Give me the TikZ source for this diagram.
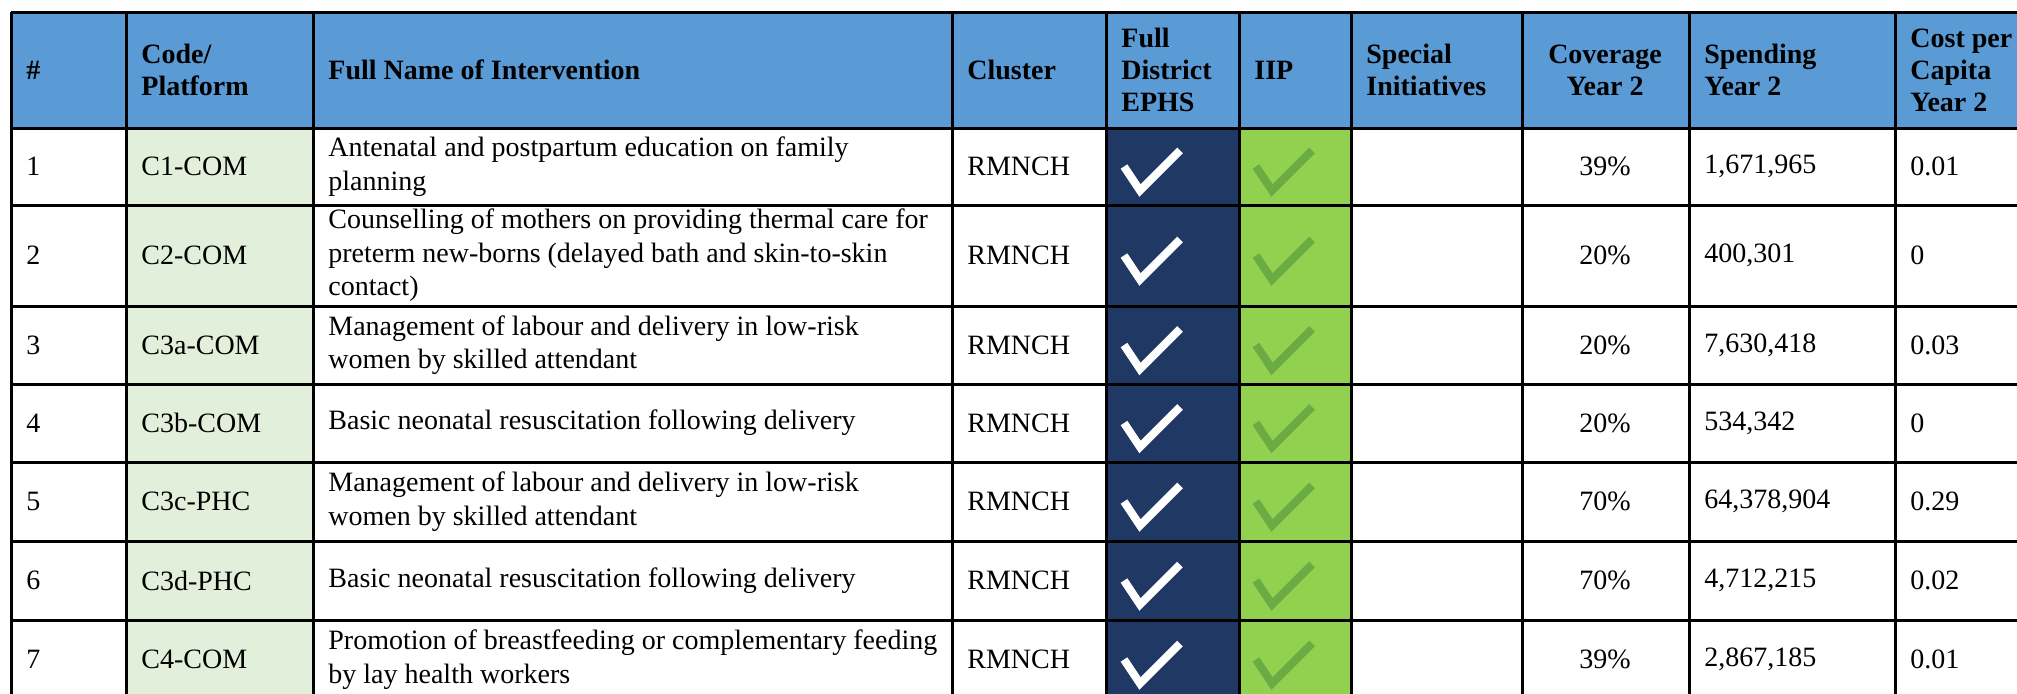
\documentclass[tikz,border=0pt]{standalone}
\usepackage{fontspec}
\setmainfont{Liberation Serif}
\usetikzlibrary{positioning}

\definecolor{headblue}{HTML}{5B9BD5}
\definecolor{codegreen}{HTML}{E2EFDA}
\definecolor{ephsnavy}{HTML}{203864}
\definecolor{iipgreen}{HTML}{92D050}
\definecolor{tickgreen}{HTML}{6AAB43}

\tikzset{
  head/.style={anchor=west,inner sep=0pt,align=left,font=\bfseries\fontsize{14pt}{16pt}\selectfont},
  cell/.style={anchor=west,inner sep=0pt,align=left,font=\fontsize{14pt}{16.75pt}\selectfont},
  rule/.style={line width=1.5pt},
  tick/.style={line width=4pt,line join=miter}
}

\begin{document}
\begin{tikzpicture}[x=0.5pt,y=-0.5pt]
  \useasboundingbox (0,0) rectangle (2017,693);
  \clip (0,0) rectangle (2017,693);
  \fill[headblue] (11,12) rectangle (2030,128);
  \fill[codegreen] (126,128) rectangle (313,700);
  \fill[ephsnavy] (1106,128) rectangle (1239,700);
  \fill[iipgreen] (1239,128) rectangle (1351,700);
  \foreach \y in {12,128,205,306,384,462,541,620}
    \draw[rule] (11,\y) -- (2030,\y);
  \foreach \x in {11,126,313,952,1106,1239,1351,1522,1689,1895}
    \draw[rule] (\x,12) -- (\x,700);

  \node[head] (hnum) at (26,70) {\#};
  \node[head] (hcode) at (141,70) {Code/\\Platform};
  \node[head] (hname) at (328,70) {Full Name of Intervention};
  \node[head] (hcluster) at (967,70) {Cluster};
  \node[head] (hephs) at (1121,70) {Full\\District\\EPHS};
  \node[head] (hiip) at (1254,70) {IIP};
  \node[head] (hspecial) at (1366,70) {Special\\Initiatives};
  \node[head,anchor=center,align=center] (hcov) at (1605,70) {Coverage\\Year 2};
  \node[head] (hspend) at (1704,70) {Spending\\Year 2};
  \node[head] (hcost) at (1910,70) {Cost per\\Capita\\Year 2};

  \foreach \r/\y/\code/\name/\cov/\spend/\cost in {
    1/166.5/C1-COM/{Antenatal and postpartum education on family\\planning}/39\%/{1,671,965}/0.01,
    2/255.5/C2-COM/{Counselling of mothers on providing thermal care for\\preterm new-borns (delayed bath and skin-to-skin\\contact)}/20\%/{400,301}/0,
    3/345/C3a-COM/{Management of labour and delivery in low-risk\\women by skilled attendant}/20\%/{7,630,418}/0.03,
    4/423/C3b-COM/{Basic neonatal resuscitation following delivery}/20\%/{534,342}/0,
    5/501.5/C3c-PHC/{Management of labour and delivery in low-risk\\women by skilled attendant}/70\%/{64,378,904}/0.29,
    6/580.5/C3d-PHC/{Basic neonatal resuscitation following delivery}/70\%/{4,712,215}/0.02,
    7/659.5/C4-COM/{Promotion of breastfeeding or complementary feeding\\by lay health workers}/39\%/{2,867,185}/0.01}
  {
    \node[cell] (num-\r) at (26,\y) {\r};
    \node[cell] (code-\r) at (141,\y) {\code};
    \node[cell] (name-\r) at (328,\y) {\name};
    \node[cell] (cluster-\r) at (967,\y) {RMNCH};
    \node[cell,anchor=center] (cov-\r) at (1605,\y) {\cov};
    \node[cell] (spend-\r) at (1704,\y) {\spend};
    \node[cell] (cost-\r) at (1910,\y) {\cost};
    \draw[tick,white] (1124,\y+0) -- ++(16,24) -- ++(40,-40);
    \draw[tick,tickgreen] (1256,\y+0) -- ++(16,24) -- ++(40,-40);
  }
\end{tikzpicture}
\end{document}
